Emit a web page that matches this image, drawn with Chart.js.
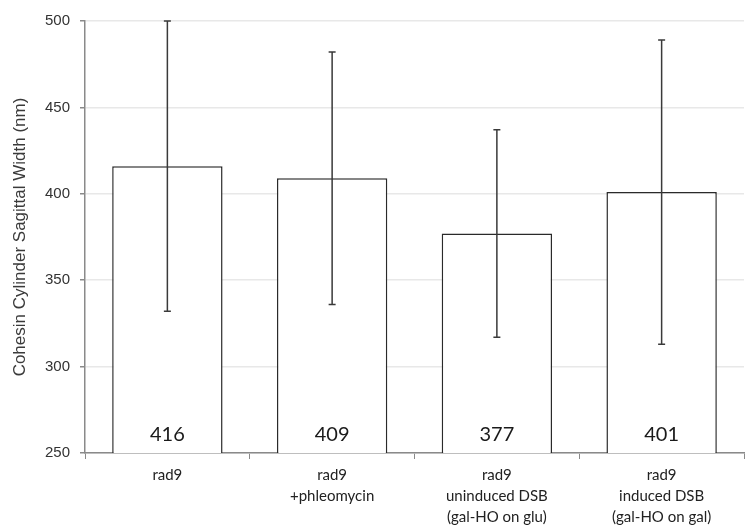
<!DOCTYPE html>
<html>
<head>
<meta charset="utf-8">
<script src="https://cdn.jsdelivr.net/npm/chart.js@4.4.1/dist/chart.umd.min.js"></script>
<style>
  html, body { margin: 0; padding: 0; background: #fff; }
  #wrap { width: 745px; height: 531px; }
</style>
</head>
<body>
<div id="wrap"><canvas id="c" width="745" height="531"></canvas></div>
<script>
// Conditions on the x axis (multi-line labels)
const categories = [
  ['rad9'],
  ['rad9', '+phleomycin'],
  ['rad9', 'uninduced DSB', '(gal-HO on glu)'],
  ['rad9', 'induced DSB', '(gal-HO on gal)']
];
// Mean cohesin cylinder sagittal width (nm)
const meanWidth = [416, 409, 377, 401];
// Standard deviation shown as symmetric error bars (nm)
const stdDev = [84, 73, 60, 88];
// Y axis range and step
const yMin = 250, yMax = 500, yStep = 50;

// Error bars drawn from the y scale
const errorBars = {
  id: 'errorBars',
  afterDatasetsDraw(chart) {
    const ctx = chart.ctx, y = chart.scales.y;
    const meta = chart.getDatasetMeta(0);
    ctx.save();
    ctx.strokeStyle = '#3a3a3a';
    ctx.lineWidth = 1.5;
    meta.data.forEach((bar, i) => {
      const top = y.getPixelForValue(meanWidth[i] + stdDev[i]);
      const bot = y.getPixelForValue(meanWidth[i] - stdDev[i]);
      const x = bar.x;
      ctx.beginPath();
      ctx.moveTo(x, top); ctx.lineTo(x, bot);
      ctx.moveTo(x - 3.5, top); ctx.lineTo(x + 3.5, top);
      ctx.moveTo(x - 3.5, bot); ctx.lineTo(x + 3.5, bot);
      ctx.stroke();
    });
    ctx.restore();
  }
};

// Mean value written near the base of each bar
const valueLabels = {
  id: 'valueLabels',
  afterDatasetsDraw(chart) {
    const ctx = chart.ctx, y = chart.scales.y;
    const meta = chart.getDatasetMeta(0);
    ctx.save();
    ctx.fillStyle = '#1a1a1a';
    ctx.font = '20px Lato, "Open Sans", sans-serif';
    ctx.textAlign = 'center';
    ctx.textBaseline = 'middle';
    meta.data.forEach((bar, i) => {
      ctx.fillText(String(meanWidth[i]), bar.x, y.getPixelForValue(yMin) - 18);
    });
    ctx.restore();
  }
};

new Chart(document.getElementById('c'), {
  type: 'bar',
  data: {
    labels: categories,
    datasets: [{
      data: meanWidth,
      backgroundColor: '#ffffff',
      borderColor: '#2a2a2a',
      borderWidth: 1.5,
      borderSkipped: false,
      categoryPercentage: 1.0,
      barPercentage: 0.67
    }]
  },
  options: {
    responsive: false,
    animation: false,
    events: [],
    layout: { padding: { top: 21, right: 1, left: 0, bottom: 0 } },
    plugins: { legend: { display: false }, tooltip: { enabled: false } },
    scales: {
      x: {
        offset: true,
        grid: {
          offset: true,
          drawOnChartArea: false,
          drawTicks: true,
          tickLength: 6,
          tickColor: '#8a8a8a'
        },
        border: { color: '#8a8a8a', width: 1.5 },
        ticks: {
          color: '#222',
          padding: 6,
          maxRotation: 0,
          autoSkip: false,
          font: { family: 'Lato, "Open Sans", sans-serif', size: 15, lineHeight: 1.4 }
        },
        afterFit(scale) { scale.height = 78; }
      },
      y: {
        min: yMin,
        max: yMax,
        ticks: {
          stepSize: yStep,
          color: '#333',
          padding: 10,
          font: { family: '"Liberation Sans", Arial, sans-serif', size: 15 }
        },
        grid: {
          color: '#e8e8e8',
          lineWidth: 1.5,
          tickLength: 5,
          tickColor: '#8a8a8a',
          drawTicks: true
        },
        border: { color: '#8a8a8a', width: 1.5 },
        title: {
          display: true,
          text: 'Cohesin Cylinder Sagittal Width (nm)',
          color: '#3a3a3a',
          padding: { top: 10, bottom: 0 },
          font: { family: '"Liberation Sans", Arial, sans-serif', size: 17 }
        },
        afterFit(scale) { scale.width = 85; }
      }
    }
  },
  plugins: [errorBars, valueLabels]
});
</script>
</body>
</html>
